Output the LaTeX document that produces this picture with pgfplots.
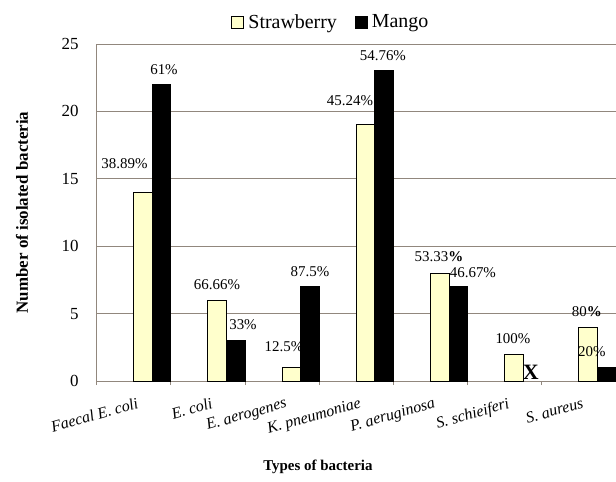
\documentclass[border=0pt]{standalone}
\usepackage{pgfplots}
\pgfplotsset{compat=1.18}
\usepackage{fontspec}
\setmainfont{Liberation Serif}
\definecolor{straw}{RGB}{255,255,204}
\definecolor{gridc}{RGB}{145,135,125}
\newcommand\pct{\fontsize{15}{17}\selectfont}
\begin{document}
\begin{tikzpicture}
\begin{axis}[
  at={(0,0)}, anchor=south west,
  width=519.3bp, height=337bp, scale only axis,
  xmin=-0.5, xmax=6.5, ymin=0, ymax=25,
  clip=false,
  axis x line*=bottom, axis y line*=left,
  axis line style={gridc, line width=0.8pt},
  ymajorgrids, grid style={gridc, line width=0.8pt},
  ytick={0,5,...,25},
  xtick={0,...,6},
  xticklabels={Faecal E. coli, E. coli, E. aerogenes, K. pneumoniae, P. aeruginosa, S. schieiferi, S. aureus},
  major tick length=0pt,
  extra x ticks={-0.5,0.5,...,6.5},
  extra x tick labels={},
  extra x tick style={major tick length=4bp, tick align=outside, tick style={gridc, line width=0.8pt}, grid=none},
  /pgf/number format/assume math mode=true,
  yticklabel style={font=\fontsize{17}{19}\selectfont, anchor=east, inner sep=0pt, xshift=-18bp},
  xticklabel style={font=\itshape\fontsize{16}{18}\selectfont, rotate=16, anchor=north east, inner sep=0pt, xshift=-2bp, yshift=-16bp},
  ylabel={Number of isolated bacteria},
  ylabel style={font=\bfseries\fontsize{17}{19}\selectfont, at={(axis description cs:-0.1438,0.5)}, anchor=center},
  xlabel={Types of bacteria},
  xlabel style={font=\bfseries\fontsize{15}{17}\selectfont, at={(axis description cs:0.426,-0.255)}, anchor=center},
  legend image code/.code={\draw[#1, line width=0.9pt] (0bp,-6bp) rectangle (12bp,6bp); \path (14bp,0bp);},
  legend style={font=\fontsize{20}{22}\selectfont, draw=none, fill=none, legend columns=2,
    at={(axis description cs:0.451,1.065)}, anchor=center,
    /tikz/every even column/.append style={column sep=16bp}},
]
\addplot[ybar, bar width=18.55bp, bar shift=9.27bp, fill=straw, draw=black, line width=1pt]
  coordinates {(0,14) (1,6) (2,1) (3,19) (4,8) (5,2) (6,4)};
\addlegendentry{Strawberry}
\node[font=\pct] at (axis cs:-0.125,16.10) {38.89\%};
\node[font=\pct] at (axis cs:1.121,7.12) {66.66\%};
\node[font=\pct] at (axis cs:2.024,2.52) {12.5\%};
\node[font=\pct] at (axis cs:2.914,20.77) {45.24\%};
\node[font=\pct] at (axis cs:4.113,9.20) {53.33\textbf{\%}};
\node[font=\pct] at (axis cs:5.111,3.12) {100\%};
\node[font=\pct] at (axis cs:6.108,5.14) {80\textbf{\%}};
\addplot[ybar, bar width=18.55bp, bar shift=27.82bp, fill=black, draw=black, line width=1pt]
  coordinates {(0,22) (1,3) (2,7) (3,23) (4,7) (6,1)};
\addlegendentry{Mango}
\node[font=\pct] at (axis cs:0.407,23.12) {61\%};
\node[font=\pct] at (axis cs:1.472,4.15) {33\%};
\node[font=\pct] at (axis cs:2.375,8.11) {87.5\%};
\node[font=\pct] at (axis cs:3.358,24.13) {54.76\%};
\node[font=\pct] at (axis cs:4.571,8.01) {46.67\%};
\node[font=\pct] at (axis cs:6.175,2.15) {20\%};
\node[font=\bfseries\fontsize{22}{24}\selectfont, inner sep=0pt] at (axis cs:5.353,0.67) {X};
\end{axis}
\pgfresetboundingbox
\path[use as bounding box] (-96.7bp,-101bp) rectangle (519.3bp,381bp);
\end{tikzpicture}
\end{document}
